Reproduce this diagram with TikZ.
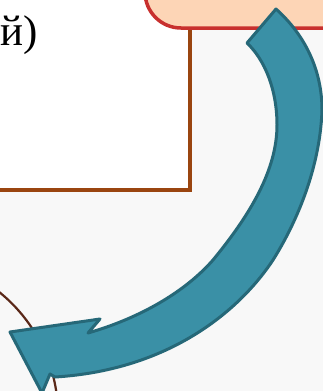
\documentclass[tikz,border=0pt]{standalone}
\usepackage{fontspec}
\setmainfont{Liberation Serif}
\definecolor{bgcol}{HTML}{F8F8F8}
\definecolor{brownln}{HTML}{9A4510}
\definecolor{pinkfill}{HTML}{FDD5B6}
\definecolor{pinkln}{HTML}{C8302E}
\definecolor{tealfill}{HTML}{3A90A6}
\definecolor{tealln}{HTML}{266878}
\definecolor{arcln}{HTML}{5A2818}
\tikzset{
  brownbox/.style={fill=white, draw=brownln, line width=3.5pt},
  pinkbox/.style={fill=pinkfill, draw=pinkln, line width=3.5pt, rounded corners=36pt},
  tealarrow/.style={fill=tealfill, draw=tealln, line width=3pt, line join=round},
  bigtext/.style={inner sep=0pt, font=\fontsize{43}{50}\selectfont},
  arcline/.style={draw=arcln, line width=2.2pt}
}
\begin{document}
\begin{tikzpicture}[x=1pt,y=-1pt]
\useasboundingbox (0,0) rectangle (323,391);
\clip (0,0) rectangle (323,391);
\fill[bgcol] (0,0) rectangle (323,391);
\path[brownbox] (-20,-20) rectangle (190,190);
\node[bigtext, anchor=base east] (txt) at (38,45) {й)};
\draw[arcline] (-100,415) circle[radius=158];
\path[pinkbox] (145,-80) rectangle (430,28);
\path[tealarrow] (276,9)
  .. controls (305,35) and (322,70) .. (322,110)
  .. controls (320,170) and (295,225) .. (273,260)
  .. controls (240,310) and (170,370) .. (55,377)
  -- (50,374) -- (42,393) -- (10,332) -- (100,319) -- (88,333)
  .. controls (140,318) and (185,292) .. (213,260)
  .. controls (250,215) and (277,170) .. (277,125)
  .. controls (277,90) and (265,60) .. (247,43)
  -- cycle;
\end{tikzpicture}
\end{document}
